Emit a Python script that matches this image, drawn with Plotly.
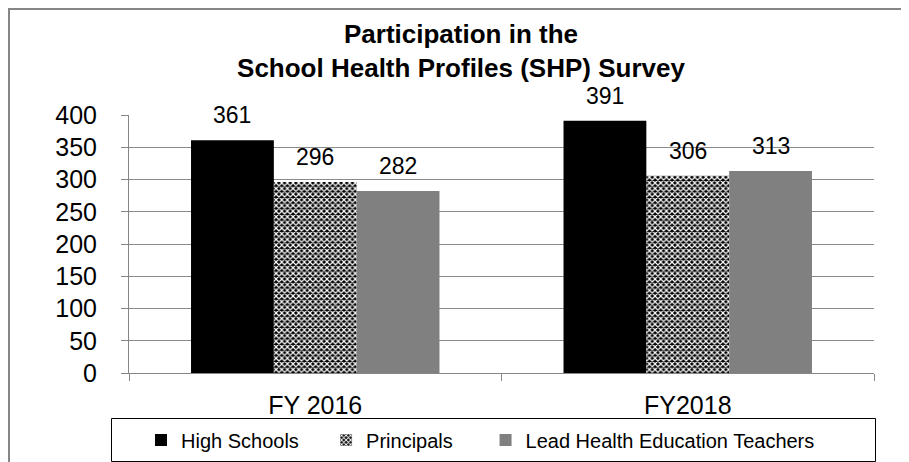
import plotly.graph_objects as go

categories = ["FY 2016", "FY2018"]
series_names = ["High Schools", "Principals", "Lead Health Education Teachers"]
high_schools = [361, 391]
principals = [296, 306]
lead_teachers = [282, 313]
y_ticks = [0, 50, 100, 150, 200, 250, 300, 350, 400]

series_values = [high_schools, principals, lead_teachers]

# the page body has an 8px margin, so the figure is 8px smaller than the window
W, H = 901, 454
L, R, T, B = 121, 35, 107, 89
ph = H - T - B
pw = W - L - R
BARGAP = 0.333

def px_to_paper_x(px):
    return (px - L) / pw

def px_to_paper_y(py):
    return (H - B - py) / ph

NB = "\u00a0"
legend_names = [series_names[0] + NB * 4, series_names[1] + NB * 5, series_names[2]]

fig = go.Figure()
fig.add_trace(go.Bar(
    x=categories, y=high_schools, name=legend_names[0],
    marker=dict(color="black", line=dict(width=0)),
))
fig.add_trace(go.Bar(
    x=categories, y=principals, name=legend_names[1],
    marker=dict(color="black", line=dict(width=0),
                pattern=dict(shape="x", fgcolor="white", bgcolor="black",
                             size=4, solidity=0.5, fillmode="replace")),
))
fig.add_trace(go.Bar(
    x=categories, y=lead_teachers, name=legend_names[2],
    marker=dict(color="#808080", line=dict(width=0)),
))

# data labels above each bar (Excel places them a little higher than plotly's outside text)
bar_w_px = pw / len(categories) * (1 - BARGAP) / len(series_values)
annotations = []
for i, vals in enumerate(series_values):
    for cat, v in zip(categories, vals):
        annotations.append(dict(
            x=cat, y=v, xref="x", yref="y", text=str(v), showarrow=False,
            xshift=(i - (len(series_values) - 1) / 2) * bar_w_px,
            yshift=10, yanchor="bottom", xanchor="center",
            font=dict(size=23, color="black"),
        ))

fig.update_layout(
    width=W, height=H,
    margin=dict(l=L, r=R, t=T, b=B, pad=0, autoexpand=False),
    paper_bgcolor="white", plot_bgcolor="white",
    font=dict(family="Liberation Sans, Arial, sans-serif", color="black"),
    barmode="group", bargap=BARGAP, bargroupgap=0,
    title=dict(
        text="<b>Participation in the<br>School Health Profiles (SHP) Survey</b>",
        x=453 / W, xanchor="center", xref="container",
        y=1 - 35 / H, yanchor="top", yref="container",
        font=dict(size=26, color="black"),
    ),
    showlegend=True,
    legend=dict(
        orientation="h",
        xref="paper", yref="paper",
        x=px_to_paper_x(133), xanchor="left",
        y=px_to_paper_y(432), yanchor="middle",
        borderwidth=0, bgcolor="rgba(0,0,0,0)",
        font=dict(size=20, color="black"),
        traceorder="normal",
        itemwidth=30,
    ),
    annotations=annotations,
    shapes=[
        dict(
            type="rect", xref="paper", yref="paper",
            x0=px_to_paper_x(1), x1=px_to_paper_x(W + 10),
            y0=px_to_paper_y(H + 10), y1=px_to_paper_y(1),
            line=dict(color="#868686", width=2), fillcolor="rgba(0,0,0,0)",
            layer="below",
        ),
        dict(
            type="rect", xref="paper", yref="paper",
            x0=px_to_paper_x(103.5), x1=px_to_paper_x(867.5),
            y0=px_to_paper_y(453.5), y1=px_to_paper_y(410.5),
            line=dict(color="black", width=1), fillcolor="rgba(0,0,0,0)",
            layer="below",
        ),
    ],
)

fig.update_yaxes(
    range=[0, 400], tickvals=y_ticks, ticktext=[str(v) for v in y_ticks],
    showline=True, linecolor="#868686", linewidth=1,
    ticks="outside", ticklen=7, tickcolor="#868686",
    showgrid=True, gridcolor="#8a8a8a", gridwidth=1,
    zeroline=False, ticklabelstandoff=19,
    tickfont=dict(size=25, color="black"),
)
fig.update_xaxes(
    type="category",
    showline=True, linecolor="#868686", linewidth=1,
    ticks="outside", tickson="boundaries", ticklen=7, tickcolor="#868686",
    tickfont=dict(size=25, color="black"), ticklabelstandoff=10,
    showgrid=False,
)

fig.write_html("out.html")
